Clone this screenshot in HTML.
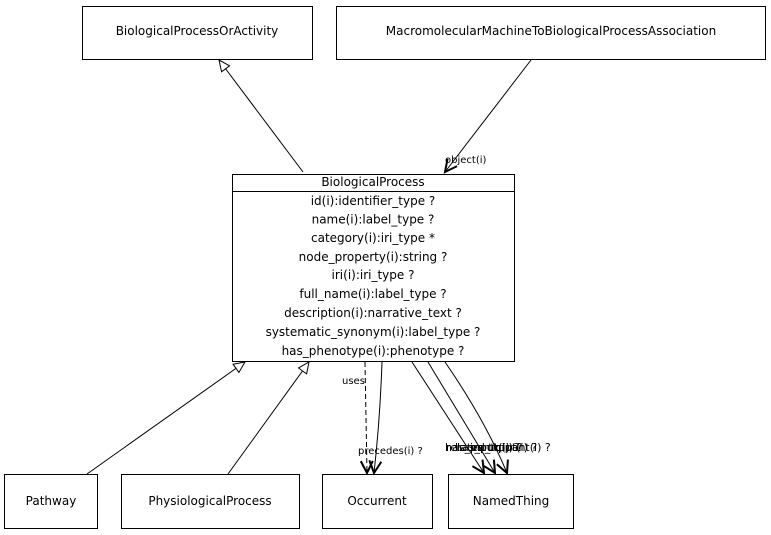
<!DOCTYPE html>
<html><head><style>body{margin:0;background:#fff}svg{display:block}</style></head><body>
<svg width="771" height="535" viewBox="0 0 771 535" xmlns="http://www.w3.org/2000/svg" font-family="DejaVu Sans, sans-serif">
<defs>
<marker id="tri" markerWidth="14" markerHeight="14" refX="12" refY="6" orient="auto" markerUnits="userSpaceOnUse"><path d="M1,1 L12,6 L1,11 z" fill="#fff" stroke="#000"/></marker>
<marker id="arr" markerWidth="16" markerHeight="16" refX="13" refY="7" orient="auto" markerUnits="userSpaceOnUse"><path d="M1,1 L13,7 L1,13" fill="none" stroke="#000" stroke-width="2"/></marker>
</defs>
<g fill="#fff" stroke="#000" stroke-width="1">
<rect x="82.5" y="6.5" width="230" height="53"/>
<rect x="336.5" y="6.5" width="429" height="53"/>
<rect x="232.5" y="174.5" width="282" height="187"/>
<line x1="232" y1="191.5" x2="514" y2="191.5"/>
<rect x="4.5" y="474.5" width="93" height="54"/>
<rect x="121.5" y="474.5" width="178" height="54"/>
<rect x="322.5" y="474.5" width="110" height="54"/>
<rect x="448.5" y="474.5" width="125" height="54"/>
</g>
<g font-size="12" text-anchor="middle" fill="#000">
<text x="197" y="35">BiologicalProcessOrActivity</text>
<text x="551" y="35">MacromolecularMachineToBiologicalProcessAssociation</text>
<text x="373" y="186">BiologicalProcess</text>
<text x="373" y="205">id(i):identifier_type ?</text>
<text x="373" y="223.5">name(i):label_type ?</text>
<text x="373" y="242">category(i):iri_type *</text>
<text x="373" y="261">node_property(i):string ?</text>
<text x="373" y="279">iri(i):iri_type ?</text>
<text x="373" y="298">full_name(i):label_type ?</text>
<text x="373" y="317">description(i):narrative_text ?</text>
<text x="373" y="336">systematic_synonym(i):label_type ?</text>
<text x="373" y="355">has_phenotype(i):phenotype ?</text>
<text x="51" y="505">Pathway</text>
<text x="210" y="505">PhysiologicalProcess</text>
<text x="377" y="505">Occurrent</text>
<text x="511" y="505">NamedThing</text>
</g>
<g fill="none" stroke="#000" stroke-width="1">
<line x1="303" y1="172" x2="219" y2="60" marker-end="url(#tri)"/>
<line x1="531" y1="60" x2="445" y2="172" marker-end="url(#arr)"/>
<line x1="87" y1="474" x2="245" y2="362" marker-end="url(#tri)"/>
<line x1="228" y1="474" x2="309" y2="362" marker-end="url(#tri)"/>
<path d="M365,362 L367,473" stroke-dasharray="5,3" marker-end="url(#arr)"/>
<path d="M382,362 Q380,420 374,473" marker-end="url(#arr)"/>
<path d="M412,362 L484,473" marker-end="url(#arr)"/>
<path d="M428,362 L495,473" marker-end="url(#arr)"/>
<path d="M445,362 Q485,420 507,473" marker-end="url(#arr)"/>
</g>
<g font-size="10" fill="#000">
<text x="445" y="163">object(i)</text>
<text x="342" y="384">uses</text>
<text x="358" y="454">precedes(i) ?</text>
</g>
<g font-size="11" fill="#000">
<text x="445" y="451">has_input(i) ?</text>
<text x="446" y="451">related_to(i) ?</text>
<text x="455" y="451">has_output(i) ?</text>
<text x="470" y="451">participant(i) ?</text>
</g>
</svg>
</body></html>
